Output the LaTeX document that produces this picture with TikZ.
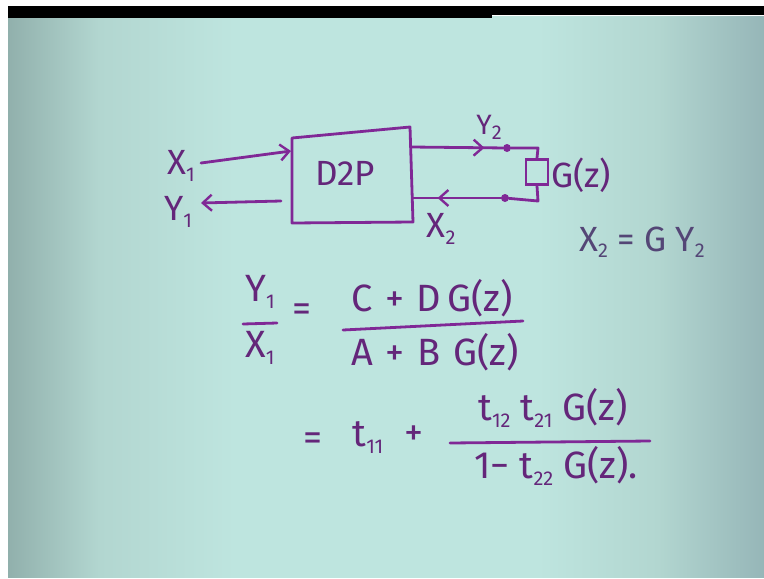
\documentclass[tikz,border=0pt]{standalone}
\usepackage{fontspec}
\setmainfont{Fira Sans}
\usetikzlibrary{arrows.meta,decorations.markings}
\definecolor{bgmid}{RGB}{190,229,223}
\definecolor{bgnear}{RGB}{178,214,208}
\definecolor{bgedge}{RGB}{145,176,172}
\definecolor{bgright}{RGB}{150,182,184}
\definecolor{ink}{RGB}{128,40,150}
\definecolor{inktext}{RGB}{100,38,122}
\definecolor{greyink}{RGB}{84,70,118}
\pgfdeclarehorizontalshading{bgsh}{100bp}{color(0bp)=(bgedge); color(25bp)=(bgedge); color(31bp)=(bgnear); color(40bp)=(bgmid); color(60bp)=(bgmid); color(68bp)=(bgnear); color(75bp)=(bgright); color(100bp)=(bgright)}
\newcommand{\sbs}[1]{\raisebox{-0.35ex}{\fontsize{20}{20}\selectfont #1}}
\begin{document}
\begin{tikzpicture}[x=1pt,y=-1pt,
  wire/.style={draw=ink,line width=2.8pt,line cap=round,line join=round},
  tip/.style={-{Straight Barb[length=9pt,width=16pt,line width=2.4pt]}},
  midarr/.style={postaction={decorate},decoration={markings,mark=at position #1 with {\arrow{Straight Barb[length=9pt,width=16pt,line width=2.4pt]}}}},
  lbl/.style={text=inktext,inner sep=0pt,font=\fontsize{35}{40}\selectfont},
  big/.style={text=inktext,inner sep=0pt,font=\fontsize{38}{42}\selectfont},
  dot/.style={circle,fill=ink,inner sep=0pt,minimum size=8pt}]
\useasboundingbox (0,0) rectangle (764,579);
\fill[white] (0,0) rectangle (764,579);
\shade[shading=bgsh] (8,16) rectangle (764,577);
\fill[black] (8,6) rectangle (492,18);
\fill[black] (492,6) rectangle (764,15);

% two-port box
\coordinate (b1) at (292,138);
\coordinate (b2) at (410,127);
\coordinate (b3) at (413,222);
\coordinate (b4) at (292,223);
\draw[wire] (b1) -- (b2) -- (b3) -- (b4) -- cycle;
\node[lbl] (d2p) at (345,173) {D2P};

% port 1
\node[lbl] (x1) at (181,166) {X\sbs{1}};
\node[lbl] (y1) at (178,212) {Y\sbs{1}};
\coordinate (x1s) at (201,163);
\coordinate (x1e) at (291,151);
\draw[wire,tip] (x1s) -- (x1e);
\coordinate (y1s) at (281,201);
\coordinate (y1e) at (201,203);
\draw[wire,tip] (y1s) -- (y1e);

% port 2
\coordinate (p2o) at (411,147);
\coordinate (p2i) at (413,198);
\node[dot] (c1) at (507,148) {};
\node[dot] (c2) at (505,198) {};
\node[draw=ink,line width=2.8pt,minimum width=22pt,minimum height=25pt,inner sep=0pt] (zl) at (537,172) {};
\coordinate (k1) at (538,148);
\coordinate (k2) at (538,201);
\draw[wire,midarr=0.8] (p2o) -- (c1);
\draw[wire] (c1) -- (k1) -- (zl.north);
\draw[wire] (zl.south) -- (k2) -- (c2);
\draw[wire,midarr=0.72] (c2) -- (p2i);
\node[text=inktext,inner sep=0pt,font=\fontsize{28}{32}\selectfont] (y2) at (489,127) {Y\sbs{2}};
\node[lbl] (x2) at (441,229) {X\sbs{2}};
\node[lbl,anchor=west] (gz) at (551,175) {G(z)};

% relation
\node[lbl,text=greyink] (rel) at (642,242) {X\sbs{2} = G Y\sbs{2}};

% first equation
\node[big] (ny1) at (260,292) {Y\sbs{1}};
\node[big] (dx1) at (260,348) {X\sbs{1}};
\coordinate (fb1) at (243,324);
\coordinate (fb2) at (277,323);
\draw[wire] (fb1) -- (fb2);
\node[big] (eq1) at (302,313) {=};
\node[big] (n1) at (432,298) {C\,\,+\,\,D\,G(z)};
\node[big] (d1) at (435,352) {A\,\,+\,\,B\,\,G(z)};
\coordinate (fc1) at (343,330);
\coordinate (fc2) at (523,321);
\draw[wire] (fc1) -- (fc2);

% second equation
\node[big] (eq2) at (313,442) {=};
\node[big] (t11) at (368,438) {t\sbs{11}};
\node[big] (pl) at (414,436) {+};
\node[big] (n2) at (553,408) {t\sbs{12} t\sbs{21} G(z)};
\node[big] (d2) at (556,466) {1−\ t\sbs{22} G(z).};
\coordinate (fd1) at (450,443);
\coordinate (fd2) at (650,441);
\draw[wire] (fd1) -- (fd2);
\end{tikzpicture}
\end{document}
